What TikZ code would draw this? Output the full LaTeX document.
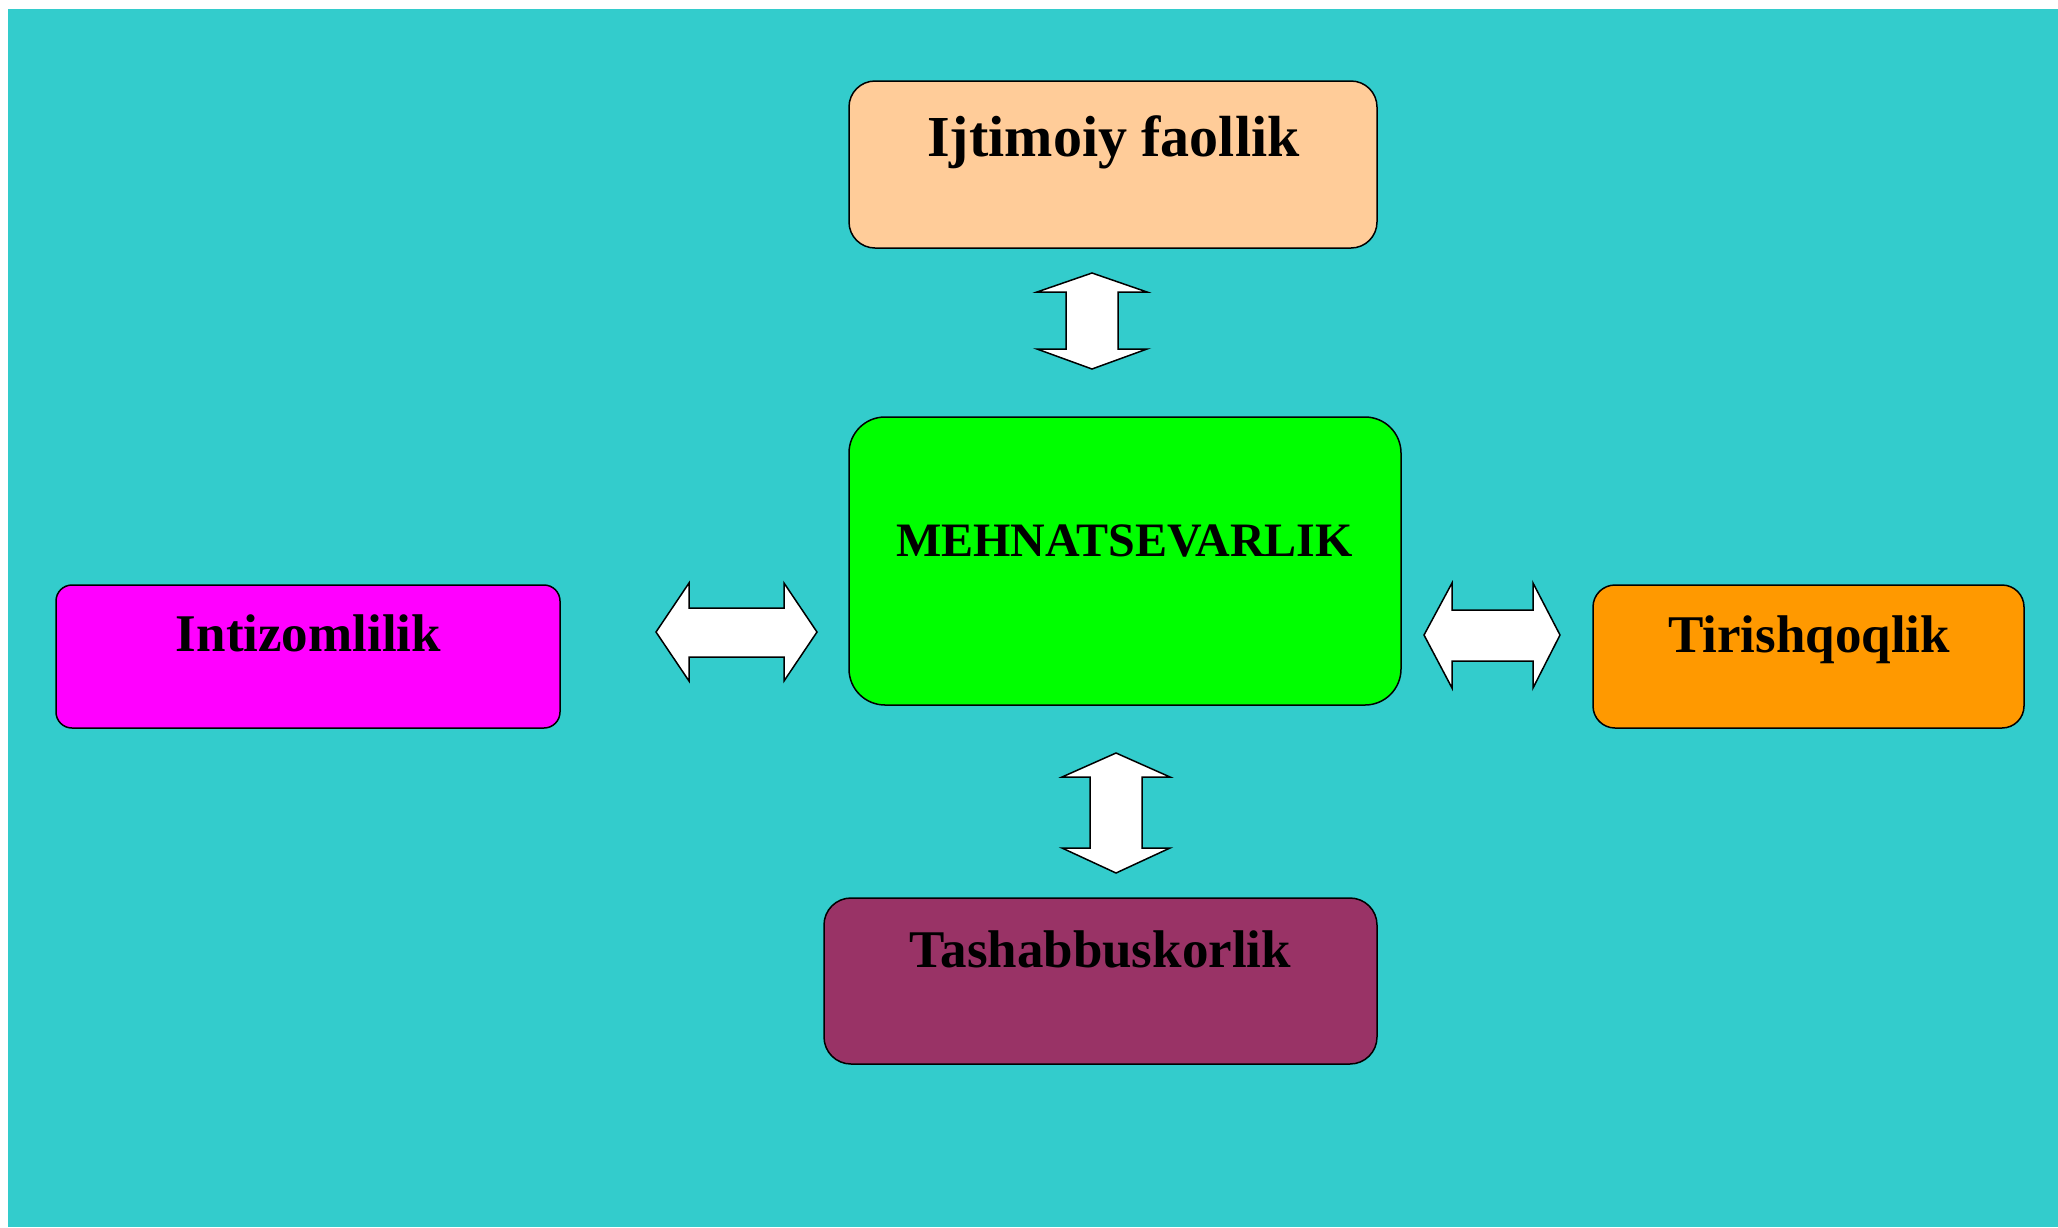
\documentclass[tikz,border=0pt]{standalone}
\usepackage{fontspec}
\setmainfont{Liberation Serif}
\definecolor{bgteal}{HTML}{33CCCC}
\definecolor{peach}{HTML}{FFCC99}
\definecolor{lime}{HTML}{00FF00}
\definecolor{magen}{HTML}{FF00FF}
\definecolor{orng}{HTML}{FF9900}
\definecolor{plum}{HTML}{993366}
\begin{document}
\begin{tikzpicture}[x=1pt,y=-1pt,
  box/.style={draw=black,line width=1.5pt,inner sep=0pt,outer sep=0pt},
  lbl/.style={anchor=base,inner sep=0pt,font=\bfseries\fontsize{53}{60}\selectfont},
  blockarrow/.style={draw=black,fill=white,line width=1.5pt,line join=miter}]
\useasboundingbox (0,0) rectangle (2058,1227);
\fill[bgteal] (8,9) rectangle (2058,1227);
% boxes
\node[box,fill=peach,minimum width=528pt,minimum height=167pt,rounded corners=26pt] (top) at (1113,164.5) {};
\node[box,fill=lime,minimum width=552pt,minimum height=288pt,rounded corners=36pt] (mid) at (1125,561) {};
\node[box,fill=magen,minimum width=504pt,minimum height=143pt,rounded corners=16pt] (left) at (308,656.5) {};
\node[box,fill=orng,minimum width=431pt,minimum height=143pt,rounded corners=22pt] (right) at (1808.5,656.5) {};
\node[box,fill=plum,minimum width=553pt,minimum height=166pt,rounded corners=27pt] (bot) at (1100.5,981) {};
% labels
\node[lbl,font=\bfseries\fontsize{58}{66}\selectfont] (topT) at (1113.5,156) {Ijtimoiy faollik};
\node[lbl,font=\bfseries\fontsize{48}{56}\selectfont] (midT) at (1124.5,556) {MEHNATSEVARLIK};
\node[lbl] (leftT) at (308.5,651) {Intizomlilik};
\node[lbl] (rightT) at (1809,652) {Tirishqoqlik};
\node[lbl] (botT) at (1100.5,967) {Tashabbuskorlik};
% block arrows
\draw[blockarrow] (1092,273) -- (1147,292) -- (1118,292) -- (1118,349) -- (1147,349) -- (1092,369)
  -- (1037,349) -- (1066,349) -- (1066,292) -- (1037,292) -- cycle;
\draw[blockarrow] (1116,753) -- (1170,777) -- (1142,777) -- (1142,848) -- (1170,848) -- (1116,873)
  -- (1062,848) -- (1090,848) -- (1090,777) -- (1062,777) -- cycle;
\draw[blockarrow] (656,632) -- (689,583) -- (689,608) -- (784,608) -- (784,583) -- (817,632)
  -- (784,681) -- (784,657) -- (689,657) -- (689,681) -- cycle;
\draw[blockarrow] (1424,635) -- (1452,583) -- (1452,610) -- (1533,610) -- (1533,583) -- (1560,635)
  -- (1533,688) -- (1533,661) -- (1452,661) -- (1452,688) -- cycle;
\end{tikzpicture}
\end{document}
